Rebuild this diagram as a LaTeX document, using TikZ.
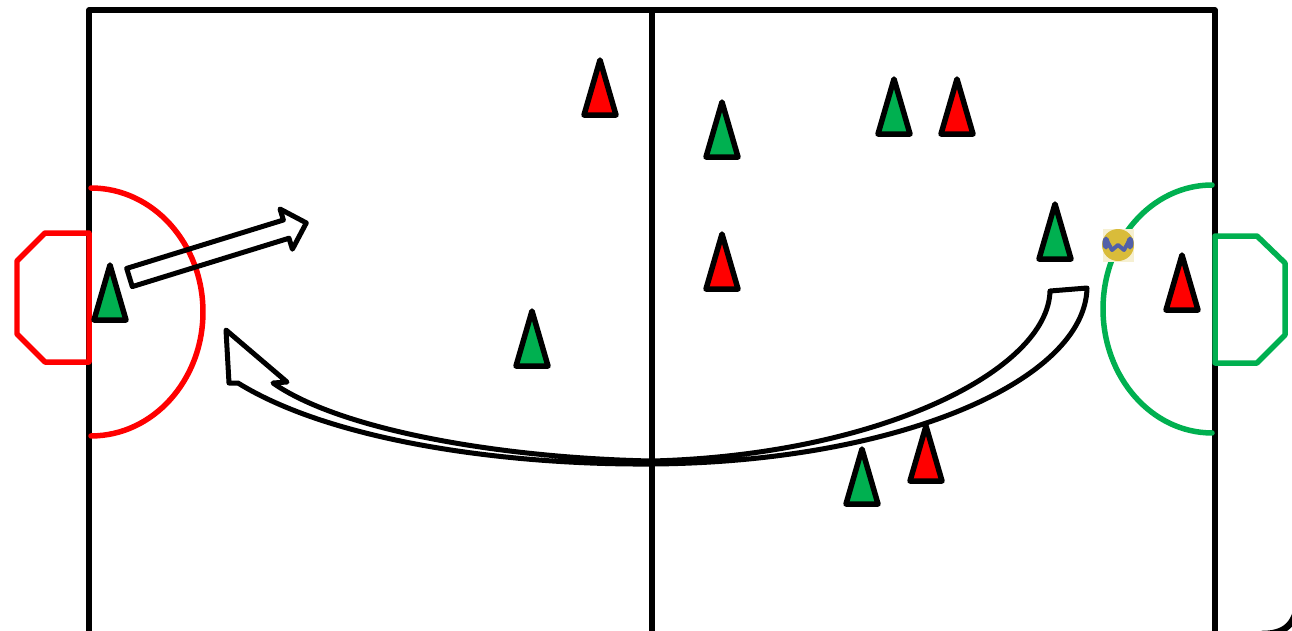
\documentclass[tikz,border=0pt]{standalone}
\usetikzlibrary{arrows.meta}
\definecolor{PitchRed}{HTML}{FF0000}
\definecolor{PitchGreen}{HTML}{00B050}
\definecolor{BallGold}{HTML}{D9BC3A}
\definecolor{BallBlue}{HTML}{5260A8}
\definecolor{BallBack}{HTML}{F6F0D2}

\begin{document}
\begin{tikzpicture}[x=0.02cm,y=-0.02cm,line cap=round,line join=round,
    pitchline/.style={line width=0.11cm},
    conestyle/.style={draw=black,line width=0.11cm},
    blockarrow/.style={draw=black,line width=0.1cm}]
  \useasboundingbox (0,0) rectangle (1292,630);
  % pitch
  \draw[pitchline] (89,634) -- (89,10) -- (1215,10) -- (1215,634);
  \draw[pitchline] (652,10) -- (652,634);
  % goals and goal areas
  \draw[pitchline,PitchRed] (89,233) -- (45,233) -- (17,261) -- (17,334) -- (45,362) -- (89,362) -- cycle;
  \draw[pitchline,PitchRed] (91,188) arc[start angle=90,end angle=-90,x radius=2.24cm,y radius=2.48cm];
  \draw[pitchline,PitchGreen] (1215,236) -- (1257,236) -- (1285,263) -- (1285,335) -- (1257,363) -- (1215,363) -- cycle;
  \draw[pitchline,PitchGreen] (1212,185) arc[start angle=90,end angle=270,x radius=2.18cm,y radius=2.48cm];
  % cones
  \filldraw[conestyle,fill=PitchRed] (600,115) ++(-16,0) -- ++(16,-55) -- ++(16,55) -- cycle;
  \filldraw[conestyle,fill=PitchGreen] (722,157) ++(-16,0) -- ++(16,-55) -- ++(16,55) -- cycle;
  \filldraw[conestyle,fill=PitchGreen] (894,134) ++(-16,0) -- ++(16,-55) -- ++(16,55) -- cycle;
  \filldraw[conestyle,fill=PitchRed] (957,134) ++(-16,0) -- ++(16,-55) -- ++(16,55) -- cycle;
  \filldraw[conestyle,fill=PitchGreen] (1055,259) ++(-16,0) -- ++(16,-55) -- ++(16,55) -- cycle;
  \filldraw[conestyle,fill=PitchRed] (722,289) ++(-16,0) -- ++(16,-55) -- ++(16,55) -- cycle;
  \filldraw[conestyle,fill=PitchRed] (1182,310) ++(-16,0) -- ++(16,-55) -- ++(16,55) -- cycle;
  \filldraw[conestyle,fill=PitchGreen] (110,320) ++(-16,0) -- ++(16,-55) -- ++(16,55) -- cycle;
  \filldraw[conestyle,fill=PitchGreen] (532,366) ++(-16,0) -- ++(16,-55) -- ++(16,55) -- cycle;
  \filldraw[conestyle,fill=PitchGreen] (862,504) ++(-16,0) -- ++(16,-55) -- ++(16,55) -- cycle;
  \filldraw[conestyle,fill=PitchRed] (926,481) ++(-16,0) -- ++(16,-55) -- ++(16,55) -- cycle;
  % ball
  \fill[BallBack] (1103,229) rectangle (1134,262);
  \fill[BallGold] (1118,245) circle[radius=0.32cm];
  \fill[BallBlue] (1106,243) ellipse[x radius=0.07cm,y radius=0.13cm];
  \fill[BallBlue] (1130,243) ellipse[x radius=0.07cm,y radius=0.13cm];
  \draw[BallBlue,line width=0.08cm] (1107,241) -- (1112,250) -- (1118,245) -- (1124,250) -- (1129,241);
  % shot
  \draw[blockarrow] (126.7,268.4) -- (283.4,220.0) -- (280.0,209.0) -- (306.3,222.9)
    -- (292.4,249.2) -- (289.0,238.2) -- (132.3,286.6) -- cycle;
  % long pass
  \draw[blockarrow] (226,330) -- (229,383) -- (238,383)
    .. controls (330,440) and (500,465) .. (652,464)
    .. controls (900,462) and (1085,380) .. (1087,288) -- (1050,291)
    .. controls (1048,370) and (880,455) .. (652,461)
    .. controls (500,458) and (340,430) .. (273,383) -- (287,382) -- cycle;
  % frame corner
  \draw[line width=0.13cm] (1299,585) .. controls (1299,620) and (1290,634) .. (1262,634);
\end{tikzpicture}
\end{document}
